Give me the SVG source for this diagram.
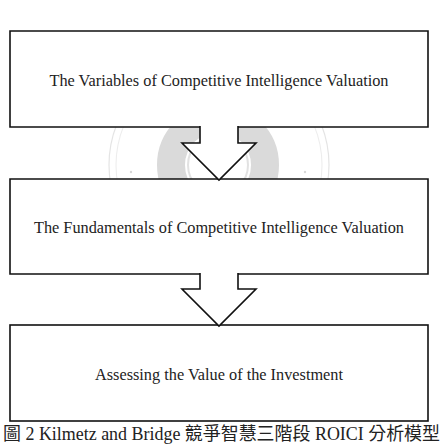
<svg xmlns="http://www.w3.org/2000/svg" width="446" height="444" viewBox="0 0 446 444">
  <style>
    .box { fill: #ffffff; stroke: none; }
    .edge { fill: none; stroke: #111111; stroke-width: 1.6; stroke-linejoin: miter; }
    .arrow { fill: #ffffff; stroke: #111111; stroke-width: 1.6; stroke-linejoin: miter; }
    .label { font-family: "Liberation Serif", "Times New Roman", serif; font-size: 16.3px; fill: #222222; text-anchor: middle; }
    .caption { font-family: "Liberation Serif", "Noto Sans CJK TC", serif; font-size: 18px; fill: #222222; }
    .wm { fill: none; }
  </style>
  <rect x="0" y="0" width="446" height="444" fill="#ffffff"/>

  <g id="watermark">
    <circle class="wm" cx="219" cy="165" r="110" stroke="#e4e4e4" stroke-width="1.2"/>
    <circle class="wm" cx="219" cy="165" r="103" stroke="#ececec" stroke-width="1"/>
    <circle class="wm" cx="218" cy="165" r="47" stroke="#dadada" stroke-width="28"/>
    <circle class="wm" cx="218" cy="165" r="30" stroke="#e2e2e2" stroke-width="2"/>
    <circle cx="131" cy="172" r="1.2" fill="#d8d8d8"/>
    <circle cx="305" cy="172" r="1.2" fill="#d8d8d8"/>
  </g>

  <g id="node-variables">
    <rect class="box" x="10" y="31" width="418" height="96"/>
    <path class="edge" d="M200,127 H10 V31 H428 V127 H238"/>
    <text class="label" x="219" y="86">The Variables of Competitive Intelligence Valuation</text>
  </g>

  <g id="node-fundamentals">
    <rect class="box" x="10" y="179" width="418" height="95"/>
    <path class="edge" d="M200,274 H10 V179 H428 V274 H238"/>
    <text class="label" x="219" y="233">The Fundamentals of Competitive Intelligence Valuation</text>
  </g>

  <g id="node-assessing">
    <rect class="box" x="10" y="325" width="418" height="96"/>
    <rect class="edge" x="10" y="325" width="418" height="96"/>
    <text class="label" x="219" y="380">Assessing the Value of the Investment</text>
  </g>

  <g id="connectors">
    <path class="arrow" d="M200,126 V143 H182 L219,180 L256,143 H238 V126"/>
    <path class="arrow" d="M200,273 V289 H182 L219,326 L256,289 H238 V273"/>
  </g>

  <text class="caption" x="3" y="440" textLength="437" lengthAdjust="spacingAndGlyphs">圖 2 Kilmetz and Bridge 競爭智慧三階段 ROICI 分析模型</text>
</svg>
